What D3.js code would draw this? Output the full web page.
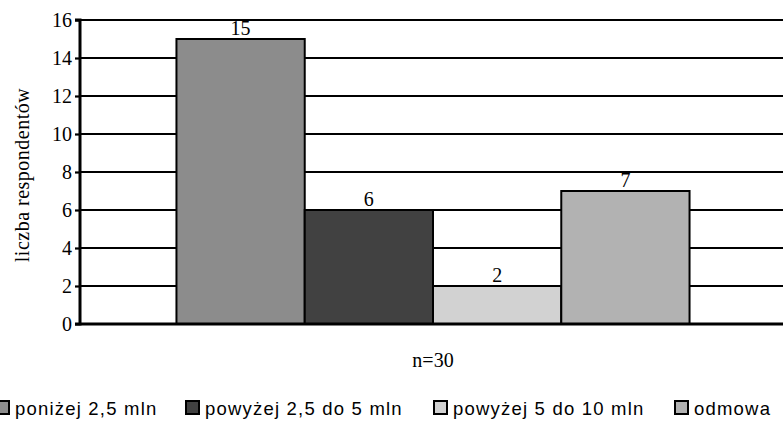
<!DOCTYPE html>
<html>
<head>
<meta charset="utf-8">
<script src="https://cdn.jsdelivr.net/npm/d3@7"></script>
<style>
  html, body { margin: 0; padding: 0; background: #fff; }
  svg { display: block; }
</style>
</head>
<body>
<svg id="chart" width="783" height="421"></svg>
<script>
// Income groups of respondents
const seriesNames = ["poniżej 2,5 mln", "powyżej 2,5 do 5 mln", "powyżej 5 do 10 mln", "odmowa"];
const seriesValues = [15, 6, 2, 7];
const seriesColors = ["#8c8c8c", "#414141", "#d2d2d2", "#b2b2b2"];
const yTicks = [0, 2, 4, 6, 8, 10, 12, 14, 16];
const groupLabel = "n=30";
const yTitle = "liczba respondentów";

const SERIF = "'Liberation Serif', 'Times New Roman', Times, serif";
const SANS = "'Liberation Sans', Arial, Helvetica, sans-serif";

const svg = d3.select("#chart");
const plot = { left: 80, right: 786, top: 20, bottom: 324 };

const y = d3.scaleLinear().domain([0, 16]).range([plot.bottom, plot.top]);

// one category holding all four series side by side
const x0 = d3.scaleBand().domain([groupLabel])
  .range([plot.left, plot.right]).paddingInner(0).paddingOuter(0.188);
const x1 = d3.scaleBand().domain(seriesNames).range([0, x0.bandwidth()]).padding(0);

// horizontal grid lines
svg.append("g").selectAll("line").data(yTicks.filter(d => d > 0)).join("line")
  .attr("x1", plot.left).attr("x2", 783)
  .attr("y1", d => y(d)).attr("y2", d => y(d))
  .attr("stroke", "#000").attr("stroke-width", 2.2);

// bars
const g = svg.append("g").attr("transform", `translate(${x0(groupLabel)},0)`);
g.selectAll("rect").data(seriesNames).join("rect")
  .attr("x", d => x1(d))
  .attr("y", (d, i) => y(seriesValues[i]))
  .attr("width", x1.bandwidth())
  .attr("height", (d, i) => y(0) - y(seriesValues[i]))
  .attr("fill", (d, i) => seriesColors[i])
  .attr("stroke", "#000").attr("stroke-width", 2);

// value labels
g.selectAll("text").data(seriesNames).join("text")
  .style("font-family", SERIF).style("font-size", "20px").attr("fill", "#000")
  .attr("x", d => x1(d) + x1.bandwidth() / 2)
  .attr("y", (d, i) => y(seriesValues[i]) - 4)
  .attr("text-anchor", "middle")
  .text((d, i) => seriesValues[i]);

// y axis
const yAxis = svg.append("g").attr("transform", `translate(${plot.left},0)`)
  .call(d3.axisLeft(y).tickValues(yTicks).tickSize(5).tickPadding(3).tickFormat(d3.format("d")));
yAxis.attr("font-family", null).attr("font-size", null);
yAxis.select(".domain").attr("stroke", "#000").attr("stroke-width", 3)
  .attr("d", `M-5,${plot.top}H0V${plot.bottom}H-5`);
yAxis.selectAll(".tick line").attr("stroke", "#000").attr("stroke-width", 2.2);
yAxis.selectAll(".tick text")
  .style("font-family", SERIF).style("font-size", "20px").attr("fill", "#000");

// x axis baseline
svg.append("line")
  .attr("x1", plot.left).attr("x2", 783)
  .attr("y1", y(0)).attr("y2", y(0))
  .attr("stroke", "#000").attr("stroke-width", 3);

// axis titles
svg.append("text")
  .style("font-family", SERIF).style("font-size", "20px").attr("fill", "#000")
  .attr("transform", `translate(29,${(plot.top + plot.bottom) / 2 + 3}) rotate(-90)`)
  .attr("text-anchor", "middle").attr("letter-spacing", 0.5)
  .text(yTitle);

svg.append("text")
  .style("font-family", SERIF).style("font-size", "20px").attr("fill", "#000")
  .attr("x", x0(groupLabel) + x0.bandwidth() / 2).attr("y", 367)
  .attr("text-anchor", "middle")
  .text(groupLabel);

// legend
const legendX = [-5, 185, 433, 674];
const legend = svg.append("g").selectAll("g").data(seriesNames).join("g")
  .attr("transform", (d, i) => `translate(${legendX[i]},401)`);
legend.append("rect")
  .attr("x", 1).attr("y", 0).attr("width", 13).attr("height", 13)
  .attr("fill", (d, i) => seriesColors[i])
  .attr("stroke", "#000").attr("stroke-width", 2);
legend.append("text")
  .style("font-family", SANS).style("font-size", "18.5px").attr("fill", "#000")
  .attr("x", 20).attr("y", 14)
  .attr("letter-spacing", 1.2)
  .text(d => d);
</script>
</body>
</html>
